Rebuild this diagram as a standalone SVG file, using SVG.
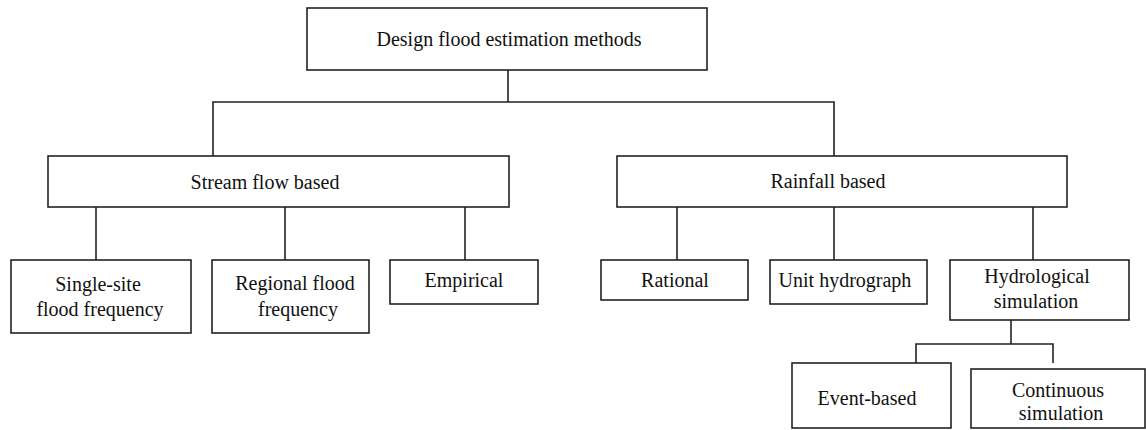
<svg xmlns="http://www.w3.org/2000/svg" width="1146" height="430" viewBox="0 0 1146 430">
<style>
.box{fill:#fff;stroke:#222;stroke-width:1.6}
.ln{fill:none;stroke:#222;stroke-width:1.6}
text{font-family:"Liberation Serif","Times New Roman",serif;font-size:20px;fill:#111;text-anchor:middle}
</style>
<rect width="1146" height="430" fill="#fff"/>
<g id="connectors">
<polyline class="ln" points="508,70 508,102"/>
<polyline class="ln" points="213,156 213,102 834,102 834,156"/>
<line class="ln" x1="96" y1="207" x2="96" y2="260"/>
<line class="ln" x1="285" y1="207" x2="285" y2="260"/>
<line class="ln" x1="465" y1="207" x2="465" y2="260"/>
<line class="ln" x1="677" y1="207" x2="677" y2="260"/>
<line class="ln" x1="834" y1="207" x2="834" y2="260"/>
<line class="ln" x1="1033" y1="207" x2="1033" y2="260"/>
<line class="ln" x1="1011" y1="320" x2="1011" y2="344"/>
<polyline class="ln" points="916,363 916,344 1053,344 1053,363"/>
</g>
<g id="n-root"><rect class="box" x="307" y="8" width="400" height="62"/><text x="509" y="46">Design flood estimation methods</text></g>
<g id="n-stream"><rect class="box" x="48" y="156" width="461" height="51"/><text x="265" y="189">Stream flow based</text></g>
<g id="n-rain"><rect class="box" x="617" y="156" width="450" height="51"/><text x="828" y="188">Rainfall based</text></g>
<g id="n-single"><rect class="box" x="11" y="260" width="180" height="73"/><text x="98" y="291">Single-site</text><text x="100" y="316">flood frequency</text></g>
<g id="n-regional"><rect class="box" x="212" y="260" width="157" height="73"/><text x="295" y="290">Regional flood</text><text x="298" y="316">frequency</text></g>
<g id="n-empirical"><rect class="box" x="390" y="260" width="148" height="44"/><text x="464" y="287">Empirical</text></g>
<g id="n-rational"><rect class="box" x="601" y="260" width="147" height="40"/><text x="675" y="287">Rational</text></g>
<g id="n-unit"><rect class="box" x="770" y="260" width="157" height="44"/><text x="845" y="287">Unit hydrograph</text></g>
<g id="n-hydro"><rect class="box" x="950" y="260" width="179" height="60"/><text x="1037" y="283">Hydrological</text><text x="1036" y="308">simulation</text></g>
<g id="n-event"><rect class="box" x="792" y="363" width="159" height="65"/><text x="867" y="405">Event-based</text></g>
<g id="n-continuous"><rect class="box" x="971" y="369" width="174" height="59"/><text x="1058" y="397">Continuous</text><text x="1061" y="420">simulation</text></g>
</svg>
